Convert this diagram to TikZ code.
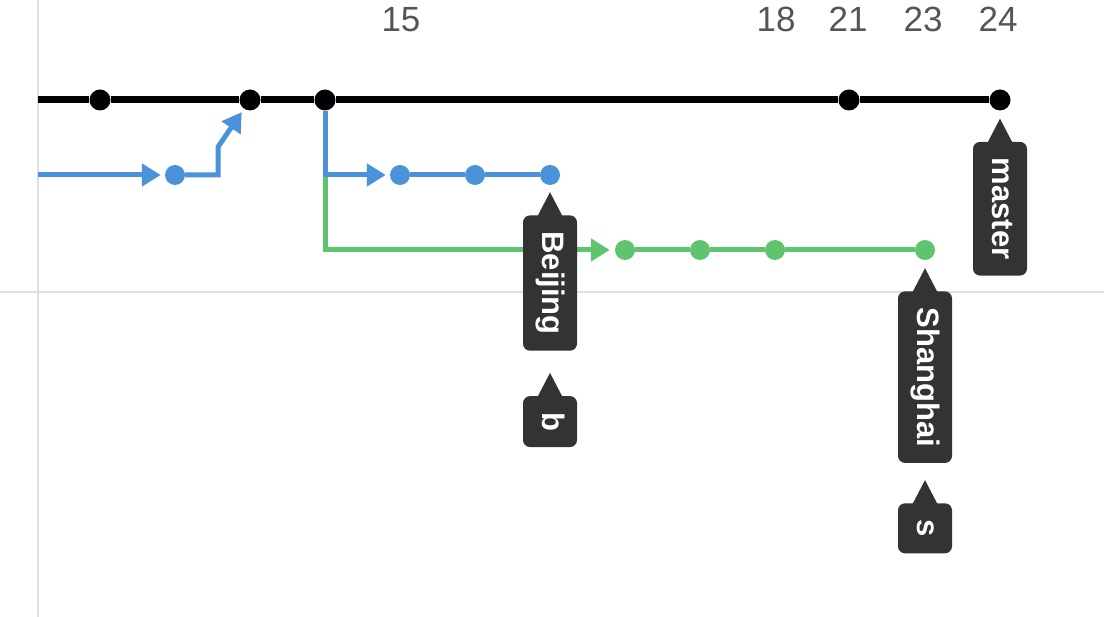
\documentclass[tikz,border=0pt]{standalone}
\usepackage{fontspec}
\setmainfont{Liberation Sans}
\usepackage{tikz}
\usetikzlibrary{positioning,arrows.meta}
\definecolor{gitblue}{RGB}{74,146,217}
\definecolor{gitgreen}{RGB}{94,196,110}
\definecolor{tagbg}{RGB}{51,51,51}
\definecolor{gridgray}{RGB}{224,224,224}
\definecolor{numgray}{RGB}{85,85,85}

\begin{document}
\begin{tikzpicture}[x = 1pt, y = -1pt,
    commit/.style = { circle, fill, inner sep = 0pt, minimum size = 20pt },
    tag/.style = { fill = tagbg, text = white, rounded corners = 7pt, rotate = -90,
      inner xsep = 16pt, inner ysep = 0pt, minimum width = 50pt, minimum height = 54pt,
      text height = 21pt, text depth = 6pt, font = \bfseries\fontsize{31}{31}\selectfont },
    num/.style = { anchor = base, text = numgray, font = \fontsize{35}{35}\selectfont },
    arr/.style = { -{Triangle[length = 19pt, width = 22pt]}, shorten > = 4pt }]

  \useasboundingbox (0,0) rectangle (1104,617);
  \draw [gridgray, line width = 2.5pt] (38,0) -- (38,617) (0,292) -- (1104,292);

  \foreach \x/\n in {401/15, 776/18, 848/21, 923/23, 998/24}
    \node [num] (n\n) at (\x,32) {\n};

  \node [commit, minimum size = 21pt] (m1) at (100,100) {};
  \node [commit, minimum size = 21pt] (m2) at (250,100) {};
  \node [commit, minimum size = 21pt] (m3) at (325,100) {};
  \node [commit, minimum size = 21pt] (m4) at (849,100) {};
  \node [commit, minimum size = 21pt] (m5) at (1000,100) {};
  \node [commit, gitblue] (b0) at (175,175) {};
  \node [commit, gitblue] (b1) at (400,175) {};
  \node [commit, gitblue] (b2) at (475,175) {};
  \node [commit, gitblue] (b3) at (550,175) {};
  \node [commit, gitgreen] (g1) at (625,250) {};
  \node [commit, gitgreen] (g2) at (700,250) {};
  \node [commit, gitgreen] (g3) at (775,250) {};
  \node [commit, gitgreen] (g4) at (925,250) {};
  \coordinate (mstart) at (38,100);
  \coordinate (bstart) at (38,175);

  \draw [line width = 7pt] (mstart) -- (m1) -- (m2) -- (m3) -- (m4) -- (m5);
  \draw [gitgreen, line width = 5pt, arr, shorten > = 5pt] (m3) |- (g1);
  \draw [gitgreen, line width = 5pt] (g1) -- (g2) -- (g3) -- (g4);
  \draw [gitblue, line width = 5pt, arr] (m3) |- (b1);
  \draw [gitblue, line width = 5pt] (b1) -- (b2) -- (b3);
  \draw [gitblue, line width = 5pt, arr] (bstart) -- (b0);
  \draw [gitblue, line width = 5pt, arr] (b0) -- ++(43,0) -- ++(0,-28) -- (m2);

  % branch tags
  \node [tag, below = 30pt of b3, anchor = west] (beijing) {Beijing};
  \node [tag, below = 45pt of beijing.east, anchor = west] (b) {b};
  \node [tag, below = 31pt of m5, anchor = west] (master) {master};
  \node [tag, below = 31pt of g4, anchor = west] (shanghai) {Shanghai};
  \node [tag, below = 40pt of shanghai.east, anchor = west] (s) {s};
  \foreach \t in {beijing, b, master, shanghai, s}
    \fill [tagbg] (\t.west) ++(-12.5pt,-1pt) -- ++(12.5pt,24pt) -- ++(12.5pt,-24pt) -- cycle;
\end{tikzpicture}
\end{document}
